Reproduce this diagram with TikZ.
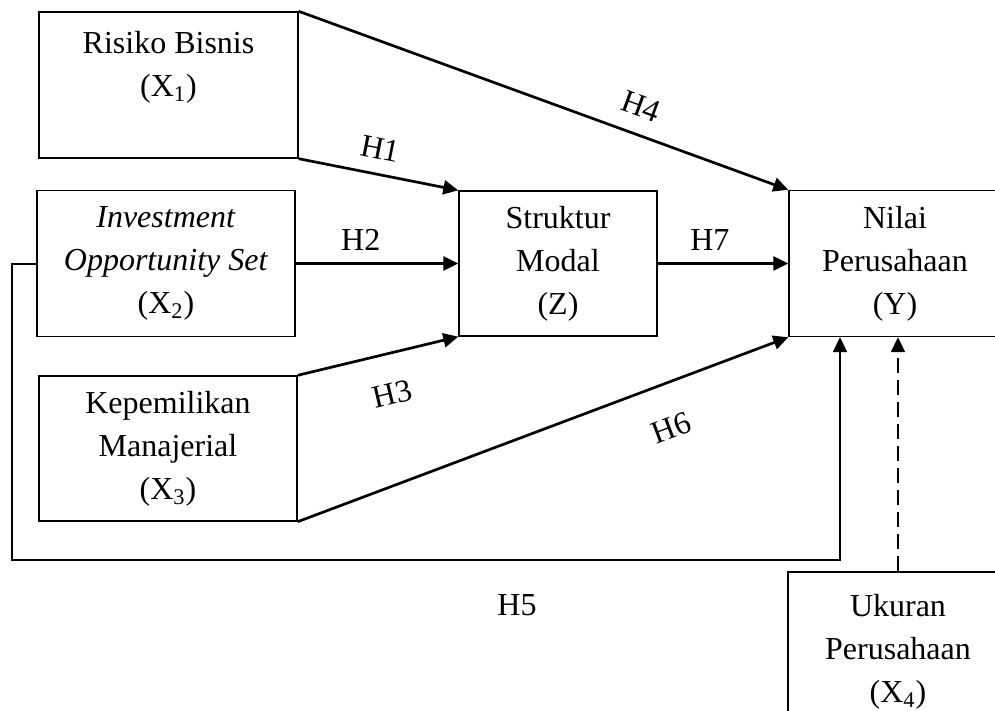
\documentclass[tikz,border=0pt]{standalone}
\usepackage{fontspec}
\setmainfont{Liberation Serif}
\usetikzlibrary{arrows.meta,positioning,calc}

\begin{document}
\begin{tikzpicture}[x=0.5pt, y=-0.5pt,
  font=\fontsize{16}{21.5}\selectfont,
  var/.style={draw, line width=0.7pt, align=center, inner sep=0pt},
  arr/.style={-{Triangle[length=7.5pt,width=7pt]}, line width=1.35pt},
  arrthin/.style={-{Triangle[length=7.5pt,width=7pt]}, line width=1pt},
  lbl/.style={inner sep=3pt}]
\clip (0,0) rectangle (995,711);
% variables
\node[var, minimum width=129.5pt, minimum height=73pt] (x1) at (168.5,85) {Risiko Bisnis\\(X\textsubscript{1})\\\mbox{}};
\node[var, minimum width=129pt, minimum height=73pt] (x2) at (166,263.5) {\textit{Investment}\\\textit{Opportunity Set}\\(X\textsubscript{2})};
\node[var, minimum width=129pt, minimum height=72.5pt] (x3) at (168,448.5) {Kepemilikan\\Manajerial\\(X\textsubscript{3})};
\node[var, minimum width=99pt, minimum height=72.5pt] (z) at (558,263.5) {Struktur\\Modal\\(Z)};
\node[var, minimum width=106pt, minimum height=73pt] (y) at (895,263.5) {Nilai\\Perusahaan\\(Y)};
\node[var, minimum width=110pt, minimum height=80pt] (x4) at (898,652) {Ukuran\\Perusahaan\\(X\textsubscript{4})};
% hypotheses
\draw[arr] (x1.south east) -- node[lbl, sloped, above=4pt, pos=0.48] (h1) {H1} (z.north west);
\draw[arr] (x1.north east) -- node[lbl, sloped, above=5pt, pos=0.68] (h4) {H4} (y.north west);
\draw[arr] (x2.east) -- node[lbl, above=3pt, pos=0.40] (h2) {H2} (z.west);
\draw[arr] (x3.north east) -- node[lbl, sloped, below=11pt, pos=0.53] (h3) {H3} (z.south west);
\draw[arr] (x3.south east) -- node[lbl, sloped, below=13pt, pos=0.73] (h6) {H6} (y.south west);
\draw[arr] (z.east) -- node[lbl, above=3pt, pos=0.40] (h7) {H7} (y.west);
% H5 round the left side
\coordinate (loopL) at (12,560);
\coordinate (loopR) at (840,560);
\draw[arrthin] (x2.west) -| (loopL) -- (loopR) -- (loopR |- y.south);
\node (h5) at (517,605) {H5};
% moderator
\draw[arrthin, dash pattern=on 7.5pt off 3.5pt] (x4.north) -- (x4.north |- y.south);
\end{tikzpicture}
\end{document}
